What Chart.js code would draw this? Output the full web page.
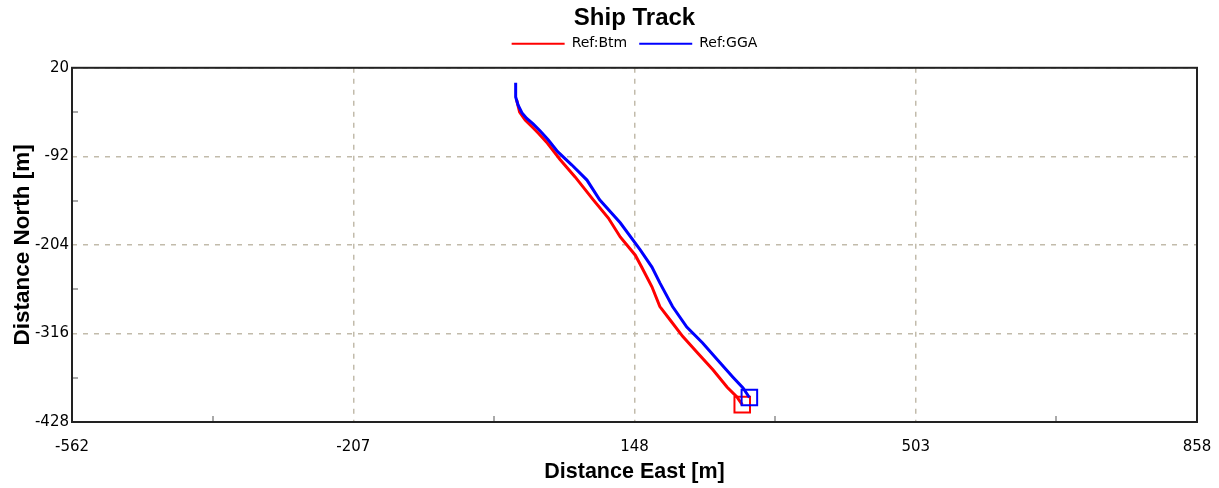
<!DOCTYPE html>
<html>
<head>
<meta charset="utf-8">
<script src="https://cdn.jsdelivr.net/npm/chart.js@4/dist/chart.umd.min.js"></script>
<style>
  html, body { margin: 0; padding: 0; background: #fff; }
  #wrap { width: 1219px; height: 488px; }
</style>
</head>
<body>
<div id="wrap"><canvas id="track"></canvas></div>
<script>
// tick values
const xTicks = [-562, -207, 148, 503, 858];
const yTicks = [20, -92, -204, -316, -428];

// Ref:Btm track (red)
const btmEast  = [-1, 3, 10, 18, 27, 37, 54, 73, 96, 115, 130, 149, 157, 170, 180, 193, 209, 228, 247, 265, 277, 284];
const btmNorth = [-20, -36, -46, -54, -63, -74, -96, -118, -147, -170, -194, -217, -232, -257, -282, -299, -320, -341, -362, -384, -396, -406];

// Ref:GGA track (blue)
const ggaEast  = [-2, -2, 1, 6, 12, 20, 29, 39, 51, 69, 88, 104, 130, 155, 170, 180, 196, 214, 234, 256, 272, 285, 293];
const ggaNorth = [1, -17, -27, -37, -44, -51, -60, -71, -86, -103, -122, -147, -176, -210, -232, -252, -282, -308, -328, -353, -371, -385, -397];

const toPoints = (xs, ys) => xs.map((x, i) => ({ x, y: ys[i] }));
const lastOnly = r => ctx => ctx.dataIndex === ctx.dataset.data.length - 1 ? r : 0;

const FONT = "Arial, 'Liberation Sans', sans-serif";
const SMALL = "'DejaVu Sans', Verdana, sans-serif";

// frame around the plot plus the small inner minor ticks
const frame = {
    id: "frame",
    beforeUpdate(chart) {
        // fixed legend box height so the plot starts lower
        const lg = chart.legend;
        if (lg && !lg._fixed) {
            const fit = lg.fit;
            lg.fit = function () { fit.call(this); this.height = 43; };
            lg._fixed = true;
        }
    },
    beforeDatasetsDraw(chart) {
        const { ctx, chartArea: a, scales } = chart;
        ctx.save();
        ctx.strokeStyle = "#aaa";
        ctx.lineWidth = 2;
        ctx.beginPath();
        for (let i = 0; i < xTicks.length - 1; i++) {
            const px = Math.round(scales.x.getPixelForValue((xTicks[i] + xTicks[i + 1]) / 2));
            ctx.moveTo(px, a.bottom);
            ctx.lineTo(px, a.bottom - 6);
        }
        for (let i = 0; i < yTicks.length - 1; i++) {
            const py = Math.round(scales.y.getPixelForValue((yTicks[i] + yTicks[i + 1]) / 2));
            ctx.moveTo(a.left, py);
            ctx.lineTo(a.left + 6, py);
        }
        ctx.stroke();
        ctx.strokeStyle = "#222";
        ctx.lineWidth = 2;
        ctx.strokeRect(a.left, a.top, a.right - a.left, a.bottom - a.top);
        ctx.restore();
    }
};

new Chart(document.getElementById("track"), {
    type: "scatter",
    data: {
        datasets: [
            {
                label: "Ref:Btm",
                data: toPoints(btmEast, btmNorth),
                showLine: true,
                borderColor: "#ff0000",
                backgroundColor: "transparent",
                borderWidth: 3,
                pointStyle: "rect",
                pointRadius: lastOnly(11),
                pointBorderWidth: 2,
                order: 2
            },
            {
                label: "Ref:GGA",
                data: toPoints(ggaEast, ggaNorth),
                showLine: true,
                borderColor: "#0000ff",
                backgroundColor: "transparent",
                borderWidth: 3,
                pointStyle: "rect",
                pointRadius: lastOnly(11),
                pointBorderWidth: 2,
                order: 1
            }
        ]
    },
    options: {
        responsive: true,
        maintainAspectRatio: false,
        animation: false,
        layout: { padding: { left: 0, right: 22, top: 0, bottom: 0 } },
        plugins: {
            tooltip: { enabled: false },
            title: {
                display: true,
                text: "Ship Track",
                fullSize: false,
                color: "#000",
                font: { family: FONT, size: 24, weight: "bold" },
                padding: { top: 4, bottom: -8 }
            },
            legend: {
                fullSize: false,
                labels: {
                    color: "#000",
                    font: { family: SMALL, size: 14 },
                    usePointStyle: true,
                    pointStyle: "line",
                    pointStyleWidth: 53,
                    padding: 12,
                    sort: (a, b) => a.datasetIndex - b.datasetIndex
                }
            }
        },
        scales: {
            x: {
                type: "linear",
                min: xTicks[0],
                max: xTicks[xTicks.length - 1],
                afterBuildTicks: s => { s.ticks = xTicks.map(v => ({ value: v })); },
                afterFit: s => { s.height = 66; s.paddingLeft = 0; s.paddingRight = 0; },
                grid: { color: "#c2bbab", drawTicks: false, lineWidth: 1.5 },
                border: { display: false, dash: [5, 6] },
                ticks: {
                    color: "#000",
                    font: { family: SMALL, size: 15 },
                    padding: 16,
                    maxRotation: 0
                },
                title: {
                    display: true,
                    text: "Distance East [m]",
                    color: "#000",
                    font: { family: FONT, size: 21.5, weight: "bold" },
                    padding: { top: 0, bottom: 3 }
                }
            },
            y: {
                type: "linear",
                min: yTicks[yTicks.length - 1],
                max: yTicks[0],
                afterBuildTicks: s => { s.ticks = yTicks.map(v => ({ value: v })).reverse(); },
                afterFit: s => { s.width = 72; },
                grid: { color: "#c2bbab", drawTicks: false, lineWidth: 1.5 },
                border: { display: false, dash: [5, 6] },
                ticks: {
                    color: "#000",
                    font: { family: SMALL, size: 15 },
                    padding: 3
                },
                title: {
                    display: true,
                    text: "Distance North [m]",
                    color: "#000",
                    font: { family: FONT, size: 22.5, weight: "bold" },
                    padding: { top: 9, bottom: 0 }
                }
            }
        }
    },
    plugins: [frame]
});
</script>
</body>
</html>
